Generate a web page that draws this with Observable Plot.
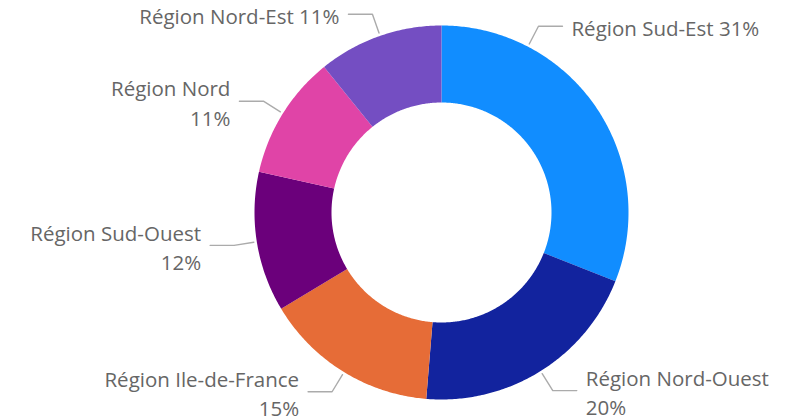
<!DOCTYPE html>
<html>
<head>
<meta charset="utf-8">
<script src="https://cdn.jsdelivr.net/npm/d3@7"></script>
<script src="https://cdn.jsdelivr.net/npm/@observablehq/plot@0.6"></script>
<style>
  html, body { margin: 0; padding: 0; background: #fff; }
  #chart svg { display: block; }
</style>
</head>
<body>
<div id="chart"></div>
<script>
// ---- data ----
const regions = ["Région Sud-Est", "Région Nord-Ouest", "Région Ile-de-France", "Région Sud-Ouest", "Région Nord", "Région Nord-Est"];
const shares = [31.0, 20.3, 15.1, 12.1, 10.7, 10.8];
const colors = ["#118DFF", "#12239E", "#E66C37", "#6B007B", "#E044A7", "#744EC2"];
const oneLineLabels = ["Région Sud-Est", "Région Nord-Est"];

// ---- layout ----
const W = 803, H = 420;
const cx = 441, cy = 212;          // centre in pixels
const R = 187, r0 = 110;           // outer / inner radius
const leadR0 = 190, leadR1 = 210, leadH = 24, textGap = 9;
const leaderAngles = [27.5, 148, 211.4, 261, 302, 340.8]; // degrees, clockwise from top

const rows = regions.map((region, i) => ({region, share: shares[i]}));
const total = d3.sum(shares);
const arcs = d3.pie().sort(null).value(d => d.share)(rows);
const pt = (rad, a) => ({x: rad * Math.sin(a), y: -rad * Math.cos(a)});

// slice polygons
const slicePts = [];
for (const a of arcs) {
  const n = Math.max(8, Math.ceil((a.endAngle - a.startAngle) / 0.01));
  for (let k = 0; k <= n; k++) {
    const t = a.startAngle + (a.endAngle - a.startAngle) * k / n;
    slicePts.push({region: a.data.region, ...pt(R, t)});
  }
  for (let k = n; k >= 0; k--) {
    const t = a.startAngle + (a.endAngle - a.startAngle) * k / n;
    slicePts.push({region: a.data.region, ...pt(r0, t)});
  }
}

// leader lines & labels
const leaderPts = [];
const labels = [];
arcs.forEach((a, i) => {
  const name = a.data.region;
  const ang = leaderAngles[i] * Math.PI / 180;
  const p0 = pt(leadR0, ang), p1 = pt(leadR1, ang);
  const right = Math.sin(ang) >= 0;
  const p2 = {x: p1.x + (right ? leadH : -leadH), y: p1.y};
  leaderPts.push({region: name, ...p0}, {region: name, ...p1}, {region: name, ...p2});
  const pct = Math.round(a.data.share / total * 100) + "%";
  const text = oneLineLabels.includes(name) ? name + " " + pct : name + "\n" + pct;
  labels.push({region: name, x: p2.x + (right ? textGap : -textGap), y: p2.y, text, right});
});

const font = "'Segoe UI', 'Open Sans', sans-serif";
const textOpts = {x: "x", y: "y", text: "text", lineAnchor: "middle", lineHeight: 1.44, dy: 0.5, fontSize: 20.5, fill: "#666666"};
const chart = Plot.plot({
  width: W,
  height: H,
  margin: 0,
  style: {fontFamily: font, background: "#fff", overflow: "visible"},
  x: {domain: [-cx, W - cx], range: [0, W], axis: null},
  y: {domain: [-cy, H - cy], range: [0, H], axis: null},
  color: {domain: regions, range: colors},
  marks: [
    Plot.line(slicePts, {x: "x", y: "y", z: "region", fill: "region", stroke: null, curve: "linear"}),
    Plot.line(leaderPts, {x: "x", y: "y", z: "region", stroke: "#ababab", strokeWidth: 1.4}),
    Plot.text(labels.filter(d => d.right), {...textOpts, textAnchor: "start"}),
    Plot.text(labels.filter(d => !d.right), {...textOpts, textAnchor: "end"})
  ]
});
document.getElementById("chart").appendChild(chart);
</script>
</body>
</html>
